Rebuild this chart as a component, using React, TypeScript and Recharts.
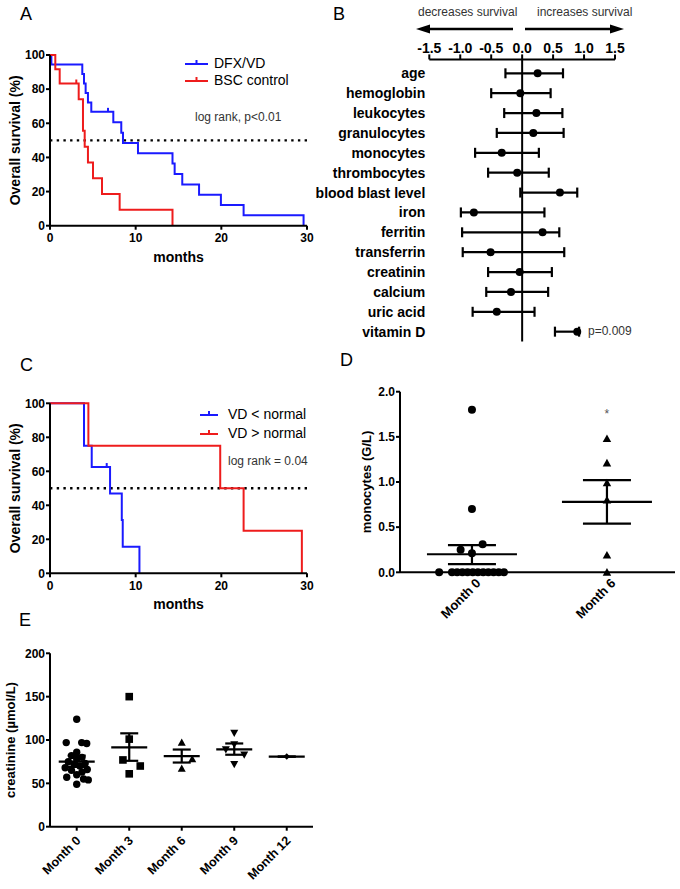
import React from 'react';
import {
  ComposedChart,
  Line,
  Scatter,
  XAxis,
  YAxis,
  ReferenceLine,
  ErrorBar,
} from 'recharts';

const FONT = '"Liberation Sans", Arial, Helvetica, sans-serif';
const BLUE = '#1a1aff';
const RED = '#ee1c1c';
const BLACK = '#000';

// A: overall survival, DFX/VD vs BSC control (step points)
const dfxMonths = [0, 0.16, 3.77, 3.97, 4.16, 4.43, 4.82, 7.39, 8.32, 8.52, 10.27, 14.3, 14.55, 15.44, 17.4, 19.95, 22.6, 29.6];
const dfxSurvival = [100, 94.4, 88.9, 83.3, 77.8, 72.2, 66.7, 60.6, 54.5, 48.5, 42.4, 36.4, 30.3, 24.2, 18.2, 12.1, 6.1, 0];
const dfxCensorMonths = [6.77];
const dfxCensorSurvival = [66.7];
const bscMonths = [0, 0.62, 1.13, 3.35, 3.85, 4.05, 4.43, 5.02, 6.07, 8.13, 14.3];
const bscSurvival = [100, 91.7, 83.3, 74.1, 55.6, 46.3, 37.0, 27.8, 18.5, 9.3, 0];
const bscCensorMonths = [3.07];
const bscCensorSurvival = [83.3];

// C: overall survival by vitamin D level
const vdLowMonths = [0, 3.97, 4.87, 7.01, 8.38, 8.49, 10.44];
const vdLowSurvival = [100, 75, 62.5, 46.9, 31.3, 15.6, 0];
const vdLowCensorMonths = [6.62];
const vdLowCensorSurvival = [62.5];
const vdHighMonths = [0, 4.48, 19.87, 22.6, 29.4];
const vdHighSurvival = [100, 75, 50, 25, 0];

const kmTicksX = [0, 10, 20, 30];
const kmTicksY = [0, 20, 40, 60, 80, 100];

// B: regression coefficients with confidence intervals
const predictors = ['age', 'hemoglobin', 'leukocytes', 'granulocytes', 'monocytes', 'thrombocytes', 'blood blast level', 'iron', 'ferritin', 'transferrin', 'creatinin', 'calcium', 'uric acid', 'vitamin D'];
const coefEstimate = [0.25, -0.03, 0.23, 0.18, -0.33, -0.08, 0.61, -0.78, 0.33, -0.51, -0.04, -0.18, -0.41, 0.89];
const ciLower = [-0.27, -0.5, -0.29, -0.41, -0.76, -0.55, -0.03, -0.99, -0.97, -0.96, -0.55, -0.58, -0.8, 0.53];
const ciUpper = [0.66, 0.46, 0.65, 0.67, 0.27, 0.43, 0.89, 0.36, 0.6, 0.68, 0.48, 0.42, 0.2, 0.92];
const forestTicks = [-1.5, -1, -0.5, 0, 0.5, 1, 1.5];

// D: monocytes at month 0 and month 6
const monoGroups = ['Month 0', 'Month 6'];
const monoMonth0 = [1.8, 0.7, 0.31, 0.25, 0.21, 0, 0, 0, 0, 0, 0, 0, 0, 0, 0, 0, 0];
const monoMonth0Jitter = [0, 0, 0.079, -0.084, 0, -0.243, -0.148, -0.11, -0.071, -0.033, 0.006, 0.044, 0.083, 0.121, 0.16, 0.198, 0.237];
const monoMonth6 = [1.48, 1.21, 0.99, 0.8, 0.19, 0];
const monoMean = [0.2, 0.78];
const monoSemLow = [0.09, 0.54];
const monoSemHigh = [0.3, 1.02];
const monoSignificance = [{ x: 1, y: 1.77 }];

// E: creatinine over time
const creatGroups = ['Month 0', 'Month 3', 'Month 6', 'Month 9', 'Month 12'];
const creatMonth0 = [124, 97, 97, 96, 86, 82, 80, 78, 75, 73, 72, 70, 68, 66, 65, 63, 60, 57, 55, 54, 49];
const creatMonth0Jitter = [0, -0.2, 0.095, 0.19, 0, -0.1, 0.1, 0, -0.16, 0.16, -0.05, 0.06, -0.22, 0.2, -0.1, 0.1, 0, -0.19, 0.13, 0.22, 0];
const creatMonth3 = [150, 101, 77, 70, 61];
const creatMonth3Jitter = [0, 0, -0.12, 0.21, 0];
const creatMonth6 = [97, 78, 67];
const creatMonth6Jitter = [0, 0.2, 0];
const creatMonth9 = [108, 95, 89, 83, 72];
const creatMonth9Jitter = [0, 0, -0.16, 0.19, 0];
const creatMonth12 = [81];
const creatMean = [75, 91.6, 81.5, 89.3, 80.8];
const creatSemLow = [69, 76, 74, 83, 80.8];
const creatSemHigh = [82, 107.7, 89, 96, 80.8];

const km = (ts: number[], ss: number[]) => ts.map((t, i) => ({ t, s: ss[i] }));
const pts = (group: number, ys: number[], jitter?: number[]) =>
  ys.map((y, i) => ({ x: group + (jitter ? jitter[i] : 0), y }));
const summary = (means: number[], lo: number[], hi: number[]) =>
  means.map((m, i) => ({ x: i, y: m, err: [m - lo[i], hi[i] - m] }));

const axisLine = { stroke: BLACK, strokeWidth: 2 };
const tickLine = { stroke: BLACK, strokeWidth: 2 };
const tickFont = (size: number) => ({ fill: BLACK, fontSize: size, fontWeight: 700, fontFamily: FONT });
const titleStyle = { fill: BLACK, fontSize: 14, fontWeight: 700, fontFamily: FONT };

const censorTick = (color: string) => (p: any) => (
  <line x1={p.cx} x2={p.cx} y1={p.cy - 4} y2={p.cy} stroke={color} strokeWidth={2} />
);

const marker = (kind: string, size: number) => (p: any) => {
  const { cx, cy } = p;
  const h = size / 2;
  if (kind === 'circle') return <circle cx={cx} cy={cy} r={h} fill={BLACK} />;
  if (kind === 'square') return <rect x={cx - h} y={cy - h} width={size} height={size} fill={BLACK} />;
  if (kind === 'up') return <polygon points={`${cx},${cy - h} ${cx + h},${cy + h * 0.8} ${cx - h},${cy + h * 0.8}`} fill={BLACK} />;
  if (kind === 'down') return <polygon points={`${cx - h},${cy - h * 0.8} ${cx + h},${cy - h * 0.8} ${cx},${cy + h}`} fill={BLACK} />;
  return <polygon points={`${cx},${cy - h} ${cx + h},${cy} ${cx},${cy + h} ${cx - h},${cy}`} fill={BLACK} />;
};

const meanBar = (half: number) => (p: any) => (
  <line x1={p.cx - half} x2={p.cx + half} y1={p.cy} y2={p.cy} stroke={BLACK} strokeWidth={2.2} />
);

const starShape = (p: any) => (
  <text x={p.cx} y={p.cy} dy="0.45em" textAnchor="middle" fontSize={12} fill="#555" fontFamily={FONT}>*</text>
);

const AngledTick = ({ x, y, payload, labels, dx, dy, size }: any) => (
  <g transform={`translate(${x + dx},${y + dy})`}>
    <text textAnchor="end" dy="0.35em" transform="rotate(-45)" fontSize={size} fontWeight={700} fill={BLACK} fontFamily={FONT}>
      {labels[payload.value]}
    </text>
  </g>
);

type Curve = { data: { t: number; s: number }[]; censor: { t: number; s: number }[]; color: string };

const KMChart = ({ height, margin, curves }: { height: number; margin: any; curves: Curve[] }) => (
  <ComposedChart width={340} height={height} margin={margin}>
    <XAxis
      type="number"
      dataKey="t"
      domain={[0, 30]}
      ticks={kmTicksX}
      height={36}
      axisLine={axisLine}
      tickLine={tickLine}
      tickSize={4}
      tickMargin={4}
      tick={tickFont(12)}
      label={{ value: 'months', position: 'insideBottom', offset: 0, style: titleStyle }}
    />
    <YAxis
      type="number"
      dataKey="s"
      domain={[0, 100]}
      ticks={kmTicksY}
      width={50}
      axisLine={axisLine}
      tickLine={tickLine}
      tickSize={4}
      tickMargin={1}
      tick={tickFont(12)}
      label={{ value: 'Overall survival (%)', angle: -90, position: 'insideLeft', offset: 15, style: { ...titleStyle, textAnchor: 'middle' } }}
    />
    <ReferenceLine y={50} stroke={BLACK} strokeWidth={2.4} strokeDasharray="2.4 4.3" />
    {curves.map((c, i) => (
      <Line key={'l' + i} data={c.data} dataKey="s" type="stepAfter" stroke={c.color} strokeWidth={2} dot={false} activeDot={false} isAnimationActive={false} />
    ))}
    {curves.map((c, i) => (
      <Scatter key={'c' + i} data={c.censor} dataKey="s" shape={censorTick(c.color)} isAnimationActive={false} />
    ))}
  </ComposedChart>
);

const Text = ({ left, cy, size, children, color = BLACK }: any) => (
  <div style={{ position: 'absolute', left, top: cy - 0.53 * size, fontSize: size, lineHeight: `${size}px`, whiteSpace: 'nowrap', color }}>
    {children}
  </div>
);

const PanelLetter = ({ left, capTop, children }: any) => (
  <div style={{ position: 'absolute', left, top: capTop - 2.4, fontSize: 18, lineHeight: '18px', color: BLACK }}>{children}</div>
);

const KMLegend = ({ left, top, rowH, iconW, gap, items }: any) => (
  <div style={{ position: 'absolute', left, top }}>
    {items.map((it: any) => (
      <div key={it.label} style={{ display: 'flex', alignItems: 'center', height: rowH }}>
        <svg width={iconW} height={12} style={{ display: 'block' }}>
          <line x1={0} x2={iconW} y1={7} y2={7} stroke={it.color} strokeWidth={2} />
          <line x1={iconW / 2} x2={iconW / 2} y1={3} y2={7} stroke={it.color} strokeWidth={2} />
        </svg>
        <span style={{ marginLeft: gap, fontSize: 14, lineHeight: '14px', whiteSpace: 'nowrap' }}>{it.label}</span>
      </div>
    ))}
  </div>
);

export default function App() {
  const forestRows = predictors.map((name, i) => ({
    row: i,
    est: coefEstimate[i],
    err: [coefEstimate[i] - ciLower[i], ciUpper[i] - coefEstimate[i]],
  }));

  return (
    <div style={{ position: 'absolute', left: 0, top: 0, width: 680, height: 889, background: '#fff', fontFamily: FONT, overflow: 'hidden' }}>
      {/* A */}
      <div style={{ position: 'absolute', left: 0, top: 0 }}>
        <KMChart
          height={270}
          margin={{ top: 55, right: 33, bottom: 8.3, left: 0 }}
          curves={[
            { data: km(dfxMonths, dfxSurvival), censor: km(dfxCensorMonths, dfxCensorSurvival), color: BLUE },
            { data: km(bscMonths, bscSurvival), censor: km(bscCensorMonths, bscCensorSurvival), color: RED },
          ]}
        />
      </div>
      <KMLegend left={185} top={55} rowH={16.7} iconW={23} gap={6} items={[{ label: 'DFX/VD', color: BLUE }, { label: 'BSC control', color: RED }]} />
      <Text left={195} cy={117.5} size={12} color="#333">log rank, p&lt;0.01</Text>

      {/* C */}
      <div style={{ position: 'absolute', left: 0, top: 330 }}>
        <KMChart
          height={290}
          margin={{ top: 73.3, right: 33, bottom: 10.7, left: 0 }}
          curves={[
            { data: km(vdLowMonths, vdLowSurvival), censor: km(vdLowCensorMonths, vdLowCensorSurvival), color: BLUE },
            { data: km(vdHighMonths, vdHighSurvival), censor: [], color: RED },
          ]}
        />
      </div>
      <KMLegend left={200} top={404.3} rowH={19.3} iconW={18} gap={10} items={[{ label: 'VD < normal', color: BLUE }, { label: 'VD > normal', color: RED }]} />
      <Text left={228} cy={461} size={12} color="#333">log rank = 0.04</Text>

      {/* B */}
      <div style={{ position: 'absolute', left: 300, top: 0 }}>
        <ComposedChart width={380} height={350} margin={{ top: 29.4, right: 65, bottom: 8.4, left: 0 }}>
          <XAxis
            type="number"
            dataKey="est"
            orientation="top"
            domain={[-1.5, 1.5]}
            ticks={forestTicks}
            tickFormatter={(v: number) => v.toFixed(1)}
            height={30}
            axisLine={axisLine}
            tickLine={tickLine}
            tickSize={5}
            tickMargin={1}
            tick={tickFont(14)}
          />
          <YAxis
            type="number"
            dataKey="row"
            domain={[-0.7, 13.5]}
            reversed
            ticks={predictors.map((_, i) => i)}
            interval={0}
            tickFormatter={(v: number) => predictors[v]}
            width={129.3}
            axisLine={false}
            tickLine={false}
            tickSize={0}
            tickMargin={4}
            tick={tickFont(14)}
          />
          <ReferenceLine x={0} stroke={BLACK} strokeWidth={2} />
          <Scatter data={forestRows} shape={marker('circle', 8)} isAnimationActive={false}>
            <ErrorBar dataKey="err" direction="x" width={5} stroke={BLACK} strokeWidth={2.2} />
          </Scatter>
        </ComposedChart>
      </div>
      <svg width={680} height={40} style={{ position: 'absolute', left: 0, top: 0 }}>
        <line x1={427} x2={513} y1={29} y2={29} stroke={BLACK} strokeWidth={2.4} />
        <polygon points="416,29 430,24.5 430,33.5" fill={BLACK} />
        <line x1={525} x2={612} y1={29} y2={29} stroke={BLACK} strokeWidth={2.4} />
        <polygon points="624,29 610,24.5 610,33.5" fill={BLACK} />
      </svg>
      <Text left={418} cy={12} size={12} color="#333">decreases survival</Text>
      <Text left={537} cy={12} size={12} color="#333">increases survival</Text>
      <Text left={588} cy={331.7} size={12} color="#333">p=0.009</Text>

      {/* D */}
      <div style={{ position: 'absolute', left: 340, top: 330 }}>
        <ComposedChart width={340} height={300} margin={{ top: 61.7, right: 5, bottom: 0, left: 0 }}>
          <XAxis
            type="number"
            dataKey="x"
            domain={[-0.533, 1.504]}
            ticks={[0, 1]}
            height={57.7}
            axisLine={axisLine}
            tickLine={false}
            tickSize={0}
            tickMargin={0}
            tick={(p: any) => <AngledTick {...p} labels={monoGroups} dx={6.3} dy={8.4} size={13} />}
          />
          <YAxis
            type="number"
            dataKey="y"
            domain={[0, 2]}
            ticks={[0, 0.5, 1, 1.5, 2]}
            tickFormatter={(v: number) => v.toFixed(1)}
            width={60}
            axisLine={axisLine}
            tickLine={tickLine}
            tickSize={4}
            tickMargin={1}
            tick={tickFont(12)}
            label={{ value: 'monocytes (G/L)', angle: -90, position: 'insideLeft', offset: 26, style: { ...titleStyle, fontSize: 13, textAnchor: 'middle' } }}
          />
          <Scatter data={summary(monoMean, monoSemLow, monoSemHigh)} shape={meanBar(45)} isAnimationActive={false}>
            <ErrorBar dataKey="err" direction="y" width={24} stroke={BLACK} strokeWidth={2.2} />
          </Scatter>
          <Scatter data={pts(0, monoMonth0, monoMonth0Jitter)} shape={marker('circle', 8)} isAnimationActive={false} />
          <Scatter data={pts(1, monoMonth6)} shape={marker('up', 8.5)} isAnimationActive={false} />
          <Scatter data={monoSignificance} shape={starShape} isAnimationActive={false} />
        </ComposedChart>
      </div>

      {/* E */}
      <div style={{ position: 'absolute', left: 0, top: 620 }}>
        <ComposedChart width={340} height={269} margin={{ top: 33.3, right: 27, bottom: 0, left: 0 }}>
          <XAxis
            type="number"
            dataKey="x"
            domain={[-0.509, 4.5]}
            ticks={[0, 1, 2, 3, 4]}
            height={62.3}
            axisLine={axisLine}
            tickLine={tickLine}
            tickSize={4}
            tickMargin={2}
            tick={(p: any) => <AngledTick {...p} labels={creatGroups} dx={1.6} dy={5.6} size={12.5} />}
          />
          <YAxis
            type="number"
            dataKey="y"
            domain={[0, 200]}
            ticks={[0, 50, 100, 150, 200]}
            width={50}
            axisLine={axisLine}
            tickLine={tickLine}
            tickSize={4}
            tickMargin={1}
            tick={tickFont(12)}
            label={{ value: 'creatinine (µmol/L)', angle: -90, position: 'insideLeft', offset: 10, style: { ...titleStyle, fontSize: 13, textAnchor: 'middle' } }}
          />
          <Scatter data={summary(creatMean, creatSemLow, creatSemHigh)} shape={meanBar(18)} isAnimationActive={false}>
            <ErrorBar dataKey="err" direction="y" width={9} stroke={BLACK} strokeWidth={2.2} />
          </Scatter>
          <Scatter data={pts(0, creatMonth0, creatMonth0Jitter)} shape={marker('circle', 7.4)} isAnimationActive={false} />
          <Scatter data={pts(1, creatMonth3, creatMonth3Jitter)} shape={marker('square', 7.6)} isAnimationActive={false} />
          <Scatter data={pts(2, creatMonth6, creatMonth6Jitter)} shape={marker('up', 8)} isAnimationActive={false} />
          <Scatter data={pts(3, creatMonth9, creatMonth9Jitter)} shape={marker('down', 8)} isAnimationActive={false} />
          <Scatter data={pts(4, creatMonth12)} shape={marker('diamond', 6.6)} isAnimationActive={false} />
        </ComposedChart>
      </div>

      <PanelLetter left={20} capTop={7}>A</PanelLetter>
      <PanelLetter left={333} capTop={7}>B</PanelLetter>
      <PanelLetter left={20} capTop={358}>C</PanelLetter>
      <PanelLetter left={340} capTop={353}>D</PanelLetter>
      <PanelLetter left={19} capTop={613}>E</PanelLetter>
    </div>
  );
}
